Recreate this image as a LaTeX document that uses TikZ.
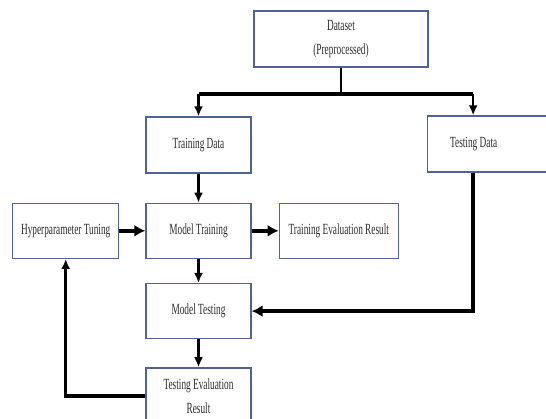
\documentclass[tikz,border=0pt]{standalone}
\usepackage{fontspec}
\setmainfont{Liberation Serif}[FakeStretch=0.6]
\usepackage{tikz}
\usetikzlibrary{arrows.meta, positioning}
\definecolor{boxline}{RGB}{80,100,145}
\definecolor{boxtext}{RGB}{45,45,45}

\begin{document}
\begin{tikzpicture}[
    x=1pt, y=1pt,
    node distance=28pt,
    block/.style={rectangle, draw=boxline, line width=1.3pt, fill=white, text=boxtext, minimum width=105pt, minimum height=55pt, align=center, font=\fontsize{15.5}{24}\selectfont},
    flow/.style={-{Latex[length=10pt,width=9pt]}, line width=2.4pt},
    bigflow/.style={-{Latex[length=11pt,width=12pt]}, line width=3.8pt}
]
\clip (0,0) rectangle (546,-419);

% Blocks
\node[block, minimum width=174pt, minimum height=56pt] (dataset) at (341,-39) {Dataset\\(Preprocessed)};
\node[block, minimum height=56pt] (traindata) at (198.5,-145) {Training Data};
\node[block, minimum width=125pt, minimum height=56pt, anchor=west] (testdata) at (427,-144) {Testing Data\hspace*{33pt}};
\node[block] (modeltrain) [below=29pt of traindata] {Model Training};
\node[block, minimum width=106pt] (hyper) [left=26pt of modeltrain] {Hyperparameter Tuning};
\node[block, minimum width=119pt] (traineval) [right=27pt of modeltrain] {Training Evaluation Result};
\node[block] (modeltest) [below=24pt of modeltrain] {Model Testing};
\node[block, minimum height=56pt] (testeval) [below=28pt of modeltest] {Testing Evaluation\\Result};

% Split of the dataset
\coordinate (split) at ([yshift=-26pt]dataset.south);
\coordinate (testin) at ([xshift=-17pt]testdata.north);
\coordinate (testout) at ([xshift=-17pt]testdata.south);
\draw[line width=2.6pt] (dataset.south) -- (split);
\draw[line width=4.2pt] (split -| traindata.north) -- (split -| testin);
\draw[flow] (split -| traindata.north) -- (traindata.north);
\draw[flow] (split -| testin) -- (testin);

% Main flow
\draw[flow] (traindata) -- (modeltrain);
\draw[bigflow] (hyper) -- (modeltrain);
\draw[bigflow] (modeltrain) -- (traineval);
\draw[flow] (modeltrain) -- (modeltest);
\draw[flow] (modeltest) -- (testeval);
\draw[bigflow] (testout) |- (modeltest.east);

% Feedback
\draw[flow, line width=3.2pt] (testeval.west) -| (hyper.south);

\end{tikzpicture}
\end{document}
